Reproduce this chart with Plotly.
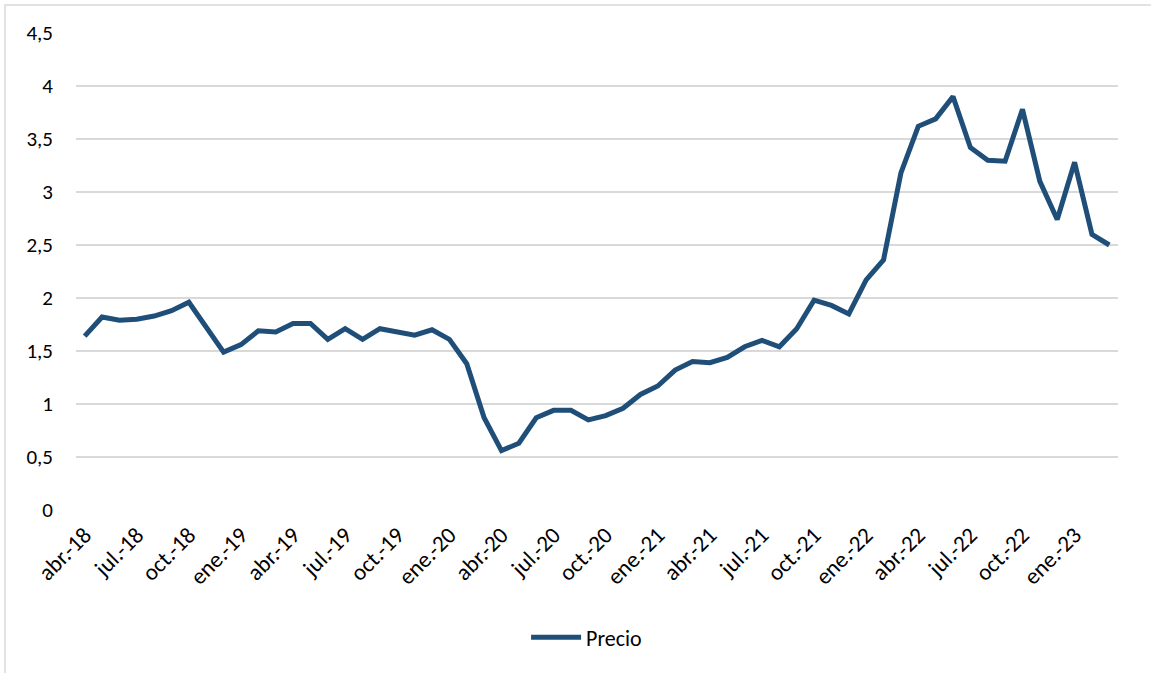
import plotly.graph_objects as go

# Monthly price series, abr.-18 .. mar.-23
months = ["ene.", "feb.", "mar.", "abr.", "may.", "jun.",
          "jul.", "ago.", "sep.", "oct.", "nov.", "dic."]
start_month, start_year, n_points = 3, 18, 60
periods = [f"{months[(start_month + i) % 12]}-{start_year + (start_month + i) // 12}"
           for i in range(n_points)]

precio = [
    1.64, 1.82, 1.79, 1.80, 1.83, 1.88, 1.96, 1.72, 1.49,          # abr-18 .. dic-18
    1.56, 1.69, 1.68, 1.76, 1.76, 1.61, 1.71, 1.61, 1.71, 1.68, 1.65, 1.70,  # 2019
    1.61, 1.38, 0.87, 0.56, 0.63, 0.87, 0.94, 0.94, 0.85, 0.89, 0.96, 1.09,  # 2020
    1.17, 1.32, 1.40, 1.39, 1.44, 1.54, 1.60, 1.54, 1.71, 1.98, 1.93, 1.85,  # 2021
    2.17, 2.36, 3.18, 3.62, 3.69, 3.90, 3.42, 3.30, 3.29, 3.78, 3.10, 2.74,  # 2022
    3.28, 2.60, 2.50,                                                # ene-23 .. mar-23
]

y_ticks = [0, 0.5, 1, 1.5, 2, 2.5, 3, 3.5, 4, 4.5]
y_tick_text = [f"{v:g}".replace(".", ",") for v in y_ticks]
x_tick_vals = periods[::3]

font_family = "Carlito, Calibri, Lato, sans-serif"
text_color = "#000000"
grid_color = "#D9D9D9"

fig = go.Figure()
fig.add_trace(go.Scatter(
    x=periods, y=precio, mode="lines", name="Precio",
    line=dict(color="#1F4E79", width=5),
))

fig.update_layout(
    width=1151, height=673,
    margin=dict(l=76, r=33, t=33, b=163),
    paper_bgcolor="white", plot_bgcolor="white",
    font=dict(family=font_family, size=20, color=text_color),
    showlegend=True,
    legend=dict(orientation="h", x=0.49, xanchor="center", y=-0.267, yanchor="middle",
                font=dict(size=22), itemwidth=50),
    xaxis=dict(
        type="category", categoryorder="array", categoryarray=periods,
        tickmode="array", tickvals=x_tick_vals, ticktext=x_tick_vals,
        tickangle=-45, showgrid=False, showline=False, zeroline=False,
        ticks="", tickfont=dict(size=23), ticklabelstandoff=6,
        range=[-0.5, n_points - 0.5],
    ),
    yaxis=dict(
        range=[0, 4.5], tickmode="array", tickvals=y_ticks, ticktext=y_tick_text,
        showgrid=True, gridcolor=grid_color, gridwidth=1.5,
        zeroline=False, showline=False, ticks="",
        ticklabelstandoff=22, tickfont=dict(size=21),
    ),
    shapes=[dict(type="rect", xref="paper", yref="paper",
                 x0=-0.0681, x1=1.0403, y0=-0.356, y1=1.0587,
                 line=dict(color=grid_color, width=1.5), fillcolor="rgba(0,0,0,0)",
                 layer="below")],
)

fig.write_html("out.html")
